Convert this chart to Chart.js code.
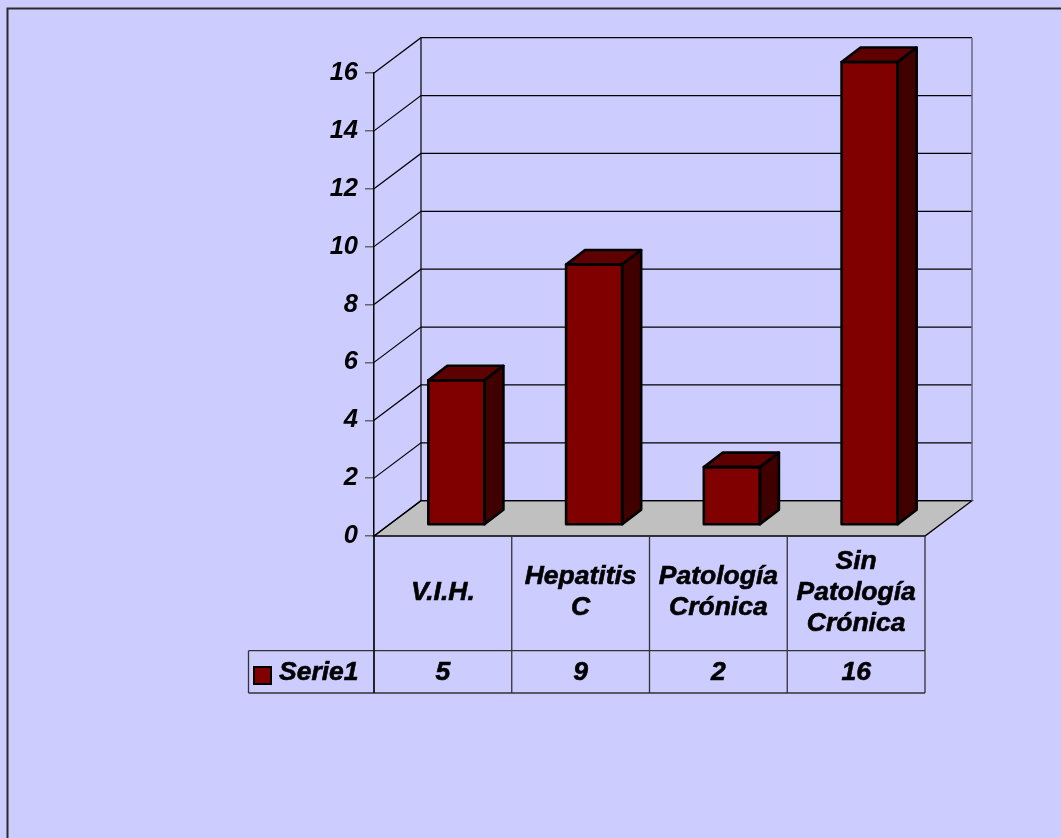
<!DOCTYPE html>
<html>
<head>
<meta charset="utf-8">
<script src="https://cdn.jsdelivr.net/npm/chart.js@4/dist/chart.umd.min.js"></script>
<style>
  html, body { margin: 0; padding: 0; background: #CCCCFF; }
  canvas { display: block; }
</style>
</head>
<body>
<canvas id="c" width="1061" height="838"></canvas>
<script>
// ---- data ----
const categories = [['V.I.H.'], ['Hepatitis', 'C'], ['Patología', 'Crónica'], ['Sin', 'Patología', 'Crónica']];
const seriesName = 'Serie1';
const seriesValues = [5, 9, 2, 16];
const yTicks = [0, 2, 4, 6, 8, 10, 12, 14, 16];

// ---- styles / geometry ----
const FONT_FAMILY = '"Liberation Sans", Arial, sans-serif';
const TXT_FONT = 'italic bold 26.5px ' + FONT_FAMILY;
const BAR_FRONT = '#800000';
const BAR_TOP = '#5e0000';
const BAR_SIDE = '#400000';
const FLOOR = '#C0C0C0';
const WALL_D = { x: 47, y: -35.3 };   // depth of the plot box
const BAR_OFF = { x: 13.5, y: -11 };  // bar front plane offset
const BAR_D = { x: 19, y: -14.5 };    // bar depth
const ROW1_BOTTOM = 650.7;
const ROW2_BOTTOM = 693;
const LEGEND_LEFT = 248.5;

function heavyText(ctx, s, x, y) {
  ctx.fillText(s, x, y);
  ctx.strokeText(s, x, y);
}

const plugin3d = {
  id: 'plugin3d',
  beforeDraw(chart) {
    const ctx = chart.ctx;
    const ca = chart.chartArea;
    const ys = chart.scales.y;
    ctx.save();
    ctx.fillStyle = '#CCCCFF';
    ctx.fillRect(0, 0, chart.width, chart.height);
    // outer frame
    ctx.strokeStyle = '#2a2a2a';
    ctx.lineWidth = 2;
    ctx.strokeRect(7.5, 8.5, 1200, 1000);

    const y0 = ys.getPixelForValue(yTicks[0]);
    const yTop = ys.getPixelForValue(yTicks[yTicks.length - 1]);
    // floor
    ctx.beginPath();
    ctx.moveTo(ca.left, y0);
    ctx.lineTo(ca.right, y0);
    ctx.lineTo(ca.right + WALL_D.x, y0 + WALL_D.y);
    ctx.lineTo(ca.left + WALL_D.x, y0 + WALL_D.y);
    ctx.closePath();
    ctx.fillStyle = FLOOR;
    ctx.fill();
    ctx.lineWidth = 1.3;
    ctx.strokeStyle = '#000';
    ctx.stroke();

    // back wall grid + side wall diagonals
    ctx.lineWidth = 1.2;
    for (const v of yTicks) {
      const yf = ys.getPixelForValue(v);
      ctx.strokeStyle = '#000';
      ctx.beginPath();
      ctx.moveTo(ca.left, yf);
      ctx.lineTo(ca.left + WALL_D.x, yf + WALL_D.y);
      ctx.lineTo(ca.right + WALL_D.x, yf + WALL_D.y);
      ctx.stroke();
    }
    // back wall left edge
    ctx.beginPath();
    ctx.moveTo(ca.left + WALL_D.x, yTop + WALL_D.y);
    ctx.lineTo(ca.left + WALL_D.x, y0 + WALL_D.y);
    ctx.stroke();
    // back wall right edge (grey)
    ctx.strokeStyle = '#6a6a80';
    ctx.lineWidth = 1.5;
    ctx.beginPath();
    ctx.moveTo(ca.right + WALL_D.x, yTop + WALL_D.y);
    ctx.lineTo(ca.right + WALL_D.x, y0 + WALL_D.y);
    ctx.stroke();
    ctx.restore();
  },
  beforeDatasetsDraw(chart) {
    chart.ctx.save();
    chart.ctx.translate(BAR_OFF.x, BAR_OFF.y);
  },
  afterDatasetsDraw(chart) {
    const ctx = chart.ctx;
    const meta = chart.getDatasetMeta(0);
    ctx.lineJoin = 'round';
    ctx.lineWidth = 2.6;
    ctx.strokeStyle = '#000';
    meta.data.forEach((bar) => {
      const p = bar.getProps(['x', 'y', 'base', 'width'], true);
      const l = p.x - p.width / 2, r = p.x + p.width / 2;
      const t = Math.min(p.y, p.base), b = Math.max(p.y, p.base);
      // top face
      ctx.beginPath();
      ctx.moveTo(l, t);
      ctx.lineTo(r, t);
      ctx.lineTo(r + BAR_D.x, t + BAR_D.y);
      ctx.lineTo(l + BAR_D.x, t + BAR_D.y);
      ctx.closePath();
      ctx.fillStyle = BAR_TOP;
      ctx.fill();
      ctx.stroke();
      // side face
      ctx.beginPath();
      ctx.moveTo(r, t);
      ctx.lineTo(r + BAR_D.x, t + BAR_D.y);
      ctx.lineTo(r + BAR_D.x, b + BAR_D.y);
      ctx.lineTo(r, b);
      ctx.closePath();
      ctx.fillStyle = BAR_SIDE;
      ctx.fill();
      ctx.stroke();
      // front outline
      ctx.strokeRect(l, t, p.width, b - t);
    });
    ctx.restore();
  },
  afterDraw(chart) {
    const ctx = chart.ctx;
    const ca = chart.chartArea;
    const xs = chart.scales.x;
    const n = categories.length;
    const cw = (ca.right - ca.left) / n;
    ctx.save();
    // table lines
    ctx.strokeStyle = '#333';
    ctx.lineWidth = 1.3;
    ctx.beginPath();
    for (let i = 0; i <= n; i++) {
      const x = i < n ? xs.getPixelForValue(i) - cw / 2 : xs.getPixelForValue(n - 1) + cw / 2;
      ctx.moveTo(x, ca.bottom);
      ctx.lineTo(x, ROW2_BOTTOM);
    }
    ctx.moveTo(LEGEND_LEFT, ROW1_BOTTOM);
    ctx.lineTo(ca.right, ROW1_BOTTOM);
    ctx.moveTo(LEGEND_LEFT, ROW2_BOTTOM);
    ctx.lineTo(ca.right, ROW2_BOTTOM);
    ctx.moveTo(LEGEND_LEFT, ROW1_BOTTOM);
    ctx.lineTo(LEGEND_LEFT, ROW2_BOTTOM);
    ctx.stroke();
    // front axis line over table
    ctx.strokeStyle = '#000';
    ctx.beginPath();
    ctx.moveTo(ca.left, ca.bottom);
    ctx.lineTo(ca.left, ROW2_BOTTOM);
    ctx.stroke();

    // category labels
    ctx.fillStyle = '#000';
    ctx.strokeStyle = '#000';
    ctx.lineWidth = 0.6;
    ctx.font = TXT_FONT;
    ctx.textAlign = 'center';
    ctx.textBaseline = 'middle';
    const mid1 = (ca.bottom + ROW1_BOTTOM) / 2 - 1;
    const lh = 31;
    categories.forEach((lines, i) => {
      const cx = xs.getPixelForValue(i);
      const start = mid1 - (lines.length - 1) * lh / 2;
      lines.forEach((s, k) => heavyText(ctx, s, cx, start + k * lh));
    });
    // values row
    const mid2 = (ROW1_BOTTOM + ROW2_BOTTOM) / 2 + 1;
    seriesValues.forEach((v, i) => heavyText(ctx, String(v), xs.getPixelForValue(i), mid2));
    // legend key
    ctx.fillStyle = BAR_FRONT;
    ctx.fillRect(254, 667, 17, 17);
    ctx.strokeStyle = '#000';
    ctx.lineWidth = 2;
    ctx.strokeRect(254, 667, 17, 17);
    ctx.fillStyle = '#000';
    ctx.lineWidth = 0.6;
    ctx.textAlign = 'left';
    heavyText(ctx, seriesName, 279, mid2);
    ctx.restore();
  }
};

new Chart(document.getElementById('c'), {
  type: 'bar',
  data: {
    labels: categories,
    datasets: [{
      label: seriesName,
      data: seriesValues,
      backgroundColor: BAR_FRONT,
      borderColor: '#000',
      borderWidth: 0,
      categoryPercentage: 1,
      barPercentage: 0.407,
      clip: false
    }]
  },
  options: {
    responsive: false,
    devicePixelRatio: 1,
    animation: false,
    events: [],
    layout: { padding: { left: 314, right: 136, top: 73, bottom: 302 } },
    plugins: { legend: { display: false }, tooltip: { enabled: false }, title: { display: false } },
    scales: {
      x: { type: 'category', display: false, offset: true },
      y: {
        min: yTicks[0],
        max: yTicks[yTicks.length - 1],
        afterFit(s) { s.width = 60; },
        afterBuildTicks(s) { s.ticks = yTicks.map(v => ({ value: v })); },
        ticks: {
          color: '#000',
          padding: 7,
          font: { family: FONT_FAMILY, size: 25.5, weight: 'bold', style: 'italic' }
        },
        grid: { drawOnChartArea: false, drawTicks: true, tickLength: 9, color: '#666', lineWidth: 1.5 },
        border: { display: true, color: '#000', width: 1.5 }
      }
    }
  },
  plugins: [plugin3d]
});
</script>
</body>
</html>
